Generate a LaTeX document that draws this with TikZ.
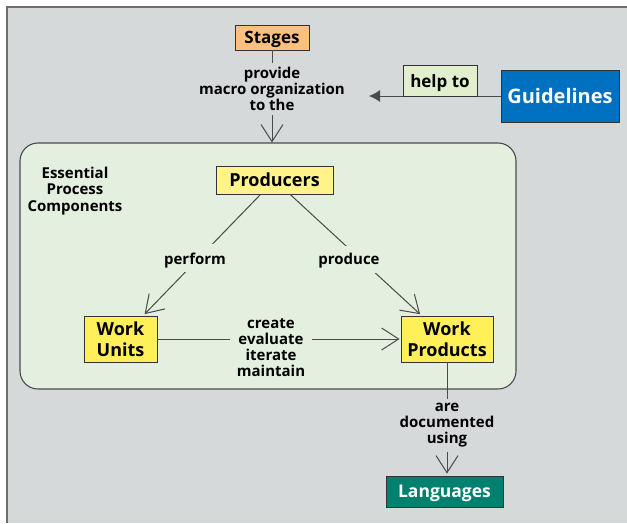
\documentclass[tikz,border=0pt]{standalone}
\usepackage{fontspec}
\setmainfont{Open Sans}
\usetikzlibrary{arrows.meta}
\definecolor{bg}{HTML}{D5D9DA}
\definecolor{frameline}{HTML}{6E6E6E}
\definecolor{epcfill}{HTML}{E3EFDF}
\definecolor{stagesfill}{HTML}{FBBF80}
\definecolor{helpfill}{HTML}{E1EFCD}
\definecolor{guidefill}{HTML}{0070C0}
\definecolor{prodfill}{HTML}{FFF38A}
\definecolor{wfill}{HTML}{FFEF58}
\definecolor{langfill}{HTML}{00806E}
\definecolor{linec}{HTML}{4A4A4A}
\definecolor{boxline}{HTML}{333333}
\tikzset{
  box/.style={draw=boxline, line width=0.9pt, inner sep=0pt, align=center,
    font=\bfseries\fontsize{17}{20}\selectfont},
  onebox/.style={box, text depth=0pt},
  lbl/.style={align=center, inner sep=0pt,
    font=\bfseries\fontsize{15}{16}\selectfont},
  conn/.style={draw=linec, line width=1pt},
  openarrow/.style={-{Straight Barb[length=17pt,width=22pt]}},
  fillarrow/.style={-{Latex[length=11pt,width=12pt]}}
}
\begin{document}
\begin{tikzpicture}[x=1pt,y=-1pt]
\useasboundingbox (0,0) rectangle (627,523);
% background frame
\fill[bg] (7,7) rectangle (627,523);
\draw[frameline, line width=2pt] (7,523) -- (7,7) -- (627,7);

% essential process components container
\node[draw=linec, line width=1.1pt, fill=epcfill, rounded corners=18pt,
      minimum width=496pt, minimum height=246pt, inner sep=0pt] (epc) at (268,266) {};
\node[lbl, font=\bfseries\fontsize{15}{16.5}\selectfont] (epctitle) at (75,191) {Essential\\Process\\Components};

% boxes
\node[onebox, fill=stagesfill, minimum width=74pt, minimum height=25pt] (stages) at (272,37.5) {Stages};
\node[onebox, fill=guidefill, text=white, minimum width=118pt, minimum height=52pt,
      font=\bfseries\fontsize{20}{22}\selectfont] (guide) at (560,96) {Guidelines};
\node[onebox, fill=prodfill, minimum width=117pt, minimum height=28pt, font=\bfseries\fontsize{18}{20}\selectfont] (prod) at (274.5,180) {Producers};
\node[box, fill=wfill, minimum width=73pt, minimum height=46pt, font=\bfseries\fontsize{18}{21}\selectfont] (wu) at (120.5,339) {Work\\Units};
\node[box, fill=wfill, minimum width=92pt, minimum height=46pt, font=\bfseries\fontsize{18}{21}\selectfont] (wp) at (447,339) {Work\\Products};
\node[onebox, fill=langfill, text=white, minimum width=117pt, minimum height=31pt, font=\bfseries\fontsize{17.5}{20}\selectfont] (lang) at (444.5,491.5) {Languages};

% connectors
\coordinate (helpend) at (369,96);
\draw[conn, fillarrow] (guide) -- (helpend);
\node[onebox, fill=helpfill, minimum width=74pt, minimum height=31pt, anchor=south,
      font=\bfseries\fontsize{17}{19}\selectfont] (help) at (440,96.5) {help to};

\draw[conn, openarrow] (stages) -- (stages |- epc.north);
\node[lbl, fill=bg, inner xsep=2pt, minimum height=52pt] (provide) at (272,88.5)
  {provide\\macro organization\\to the};

\draw[conn, openarrow, shorten >=2pt] (prod) -- (wu);
\node[lbl, fill=epcfill, anchor=base, text height=20pt, text depth=8pt] (perform) at (195,264) {perform};

\draw[conn, openarrow, shorten >=2pt] (prod) -- (wp);
\node[lbl, fill=epcfill, anchor=base, text height=18pt, text depth=9pt] (produce) at (349,264) {produce};

\draw[conn, openarrow, shorten >=1pt] (wu) -- (wp);
\node[lbl, fill=epcfill, minimum width=82pt] (create) at (271,348) {create\\evaluate\\iterate\\maintain};

\draw[conn, openarrow, shorten >=2pt] (wp) -- (wp |- lang.north);
\node[lbl, fill=bg, minimum height=53pt] (docs) at (447,425) {are\\documented\\using};
\end{tikzpicture}
\end{document}
